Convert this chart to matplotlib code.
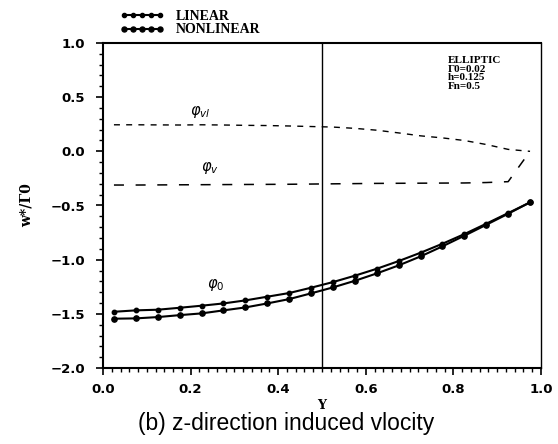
import matplotlib
matplotlib.use("Agg")
import matplotlib.pyplot as plt
from matplotlib.ticker import MultipleLocator
from matplotlib.lines import Line2D

plt.rcParams['lines.scale_dashes'] = False

# ---- data ----
y_pos = [0.025, 0.075, 0.125, 0.175, 0.225, 0.275, 0.325, 0.375, 0.425, 0.475,
         0.525, 0.575, 0.625, 0.675, 0.725, 0.775, 0.825, 0.875, 0.925, 0.975]
phi0_linear = [-1.481, -1.468, -1.462, -1.444, -1.425, -1.404, -1.376, -1.342, -1.308, -1.259,
               -1.207, -1.148, -1.084, -1.013, -0.936, -0.853, -0.764, -0.668, -0.570, -0.471]
phi0_nonlinear = [-1.545, -1.542, -1.530, -1.512, -1.496, -1.468, -1.441, -1.404, -1.364, -1.311,
                  -1.256, -1.195, -1.127, -1.053, -0.970, -0.877, -0.779, -0.678, -0.576, -0.471]
phi_vl = [0.245, 0.245, 0.244, 0.243, 0.245, 0.243, 0.240, 0.238, 0.234, 0.229,
          0.224, 0.212, 0.195, 0.170, 0.143, 0.124, 0.100, 0.063, 0.018, 0.000]
phi_v = [-0.311, -0.311, -0.310, -0.309, -0.308, -0.307, -0.306, -0.305, -0.304, -0.302,
         -0.300, -0.298, -0.296, -0.295, -0.294, -0.293, -0.292, -0.288, -0.280, 0.000]
legend_labels = ["LINEAR", "NONLINEAR"]
info_lines = ["ELLIPTIC", "Γ0=0.02", "h=0.125", "Fn=0.5"]
x_ticks = [0.0, 0.2, 0.4, 0.6, 0.8, 1.0]
y_ticks = [-2.0, -1.5, -1.0, -0.5, 0.0, 0.5, 1.0]

fig = plt.figure(figsize=(5.58, 4.44), dpi=100)
ax = fig.add_axes([103/558, 1-368/444, (541-103)/558, (368-43)/444])

l1, = ax.plot(y_pos, phi0_linear, color='black', lw=1.5, marker='o', ms=3.2)
l2, = ax.plot(y_pos, phi0_nonlinear, color='black', lw=1.5, marker='o', ms=3.8)
ax.plot(y_pos, phi_vl, color='black', lw=1.0, linestyle=(0, (4.3, 4.5)))
ax.plot(y_pos, phi_v, color='black', lw=1.1, linestyle=(0, (7.2, 8.4)))
ax.axvline(0.5, color='black', lw=1.0)

ax.set_xlim(0.0, 1.0)
ax.set_ylim(-2.0, 1.0)
ax.set_xticks(x_ticks)
ax.set_yticks(y_ticks)
ax.xaxis.set_minor_locator(MultipleLocator(0.02))
ax.yaxis.set_minor_locator(MultipleLocator(0.1))
ax.set_xticklabels([f"{v:.1f}" for v in x_ticks])
ax.set_yticklabels([f"{v:.1f}".replace("-", "\u2212") for v in y_ticks])
ax.tick_params(which='major', direction='out', length=5, width=1.2, labelsize=9.5, pad=6)
ax.tick_params(axis='y', which='major', pad=8)
ax.tick_params(which='minor', direction='out', length=3, width=1.0)
for lab in ax.get_xticklabels() + ax.get_yticklabels():
    lab.set_fontweight('bold')
    lab.set_family('DejaVu Sans')
for s in ['left', 'bottom', 'top']:
    ax.spines[s].set_linewidth(1.5)
ax.spines['right'].set_linewidth(1.0)

ax.set_xlabel("Y", fontsize=9, fontweight='bold', family='DejaVu Serif', labelpad=2)
ax.set_ylabel("w*/Γ0", fontsize=10, fontweight='bold', family='DejaVu Serif', labelpad=12)

ax.text(0.221, 0.363, r"$\varphi_{vl}$", fontsize=10.5, ha='center', va='center')
ax.text(0.244, -0.154, r"$\varphi_{v}$", fontsize=10.5, ha='center', va='center')
ax.text(0.258, -1.234, r"$\varphi_{0}$", fontsize=10.5, ha='center', va='center')

ax.text((448-103)/438, 1-(56-43)/325, "\n".join(info_lines), transform=ax.transAxes,
        fontsize=8, fontweight='bold', family='Liberation Serif', ha='left', va='top',
        linespacing=0.95)

h1 = Line2D([], [], color='black', lw=1.5, marker='o', ms=3.0)
h2 = Line2D([], [], color='black', lw=1.5, marker='o', ms=3.6)
fig.legend([h1, h2], legend_labels, loc='upper left', bbox_to_anchor=(117/558, 1-7/444),
           frameon=False, numpoints=5, handlelength=3.2, handletextpad=0.8,
           labelspacing=0.05, borderaxespad=0.0, borderpad=0.2,
           prop={'family': 'Liberation Serif', 'size': 10, 'weight': 'bold'})

fig.text(286/558, 1-423/444, "(b) z-direction induced vlocity", fontsize=16.5,
         family='Liberation Sans', ha='center', va='center')

fig.savefig("out.png", dpi=100)
